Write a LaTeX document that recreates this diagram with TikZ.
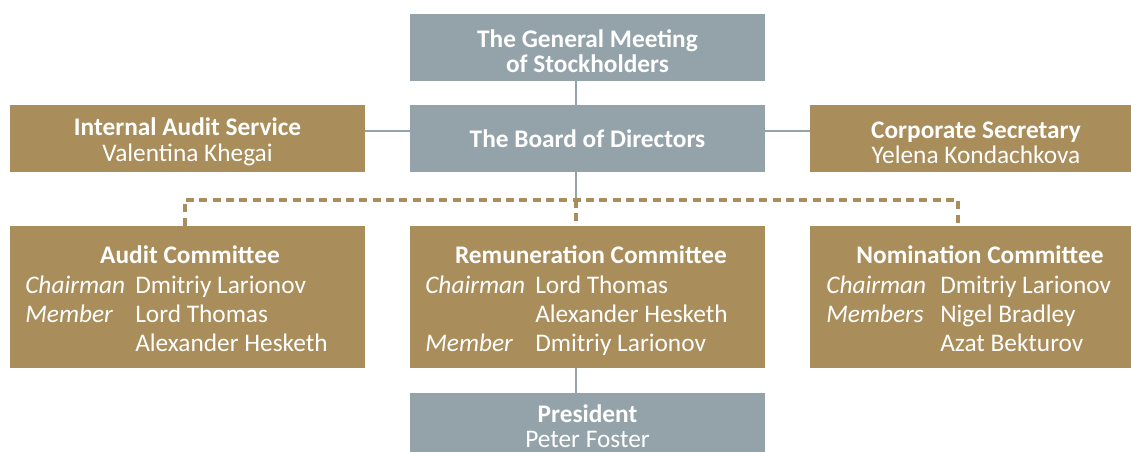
\documentclass[tikz,border=0pt]{standalone}
\usepackage{fontspec}
\setmainfont{Carlito}
\definecolor{boardgrey}{RGB}{148,162,169}
\definecolor{committeegold}{RGB}{169,141,90}
\newcommand\boxstrut{\rule{0pt}{18.5pt}}

\begin{document}
\begin{tikzpicture}[x=0.75pt,y=-0.75pt,
        box/.style={inner sep=0pt,text=white,align=center,minimum width=266.25pt,minimum height=50.25pt,
            font=\fontsize{19}{19}\selectfont},
        greybox/.style={box,fill=boardgrey},
        goldbox/.style={box,fill=committeegold},
        tallbox/.style={goldbox,minimum height=106.5pt},
        title/.style={anchor=base,inner sep=0pt,text=white,font=\bfseries\fontsize{19}{22}\selectfont},
        roster/.style={anchor=base west,inner sep=0pt,text=white,font=\fontsize{19}{22}\selectfont},
        link/.style={draw=boardgrey,line width=2pt},
        dashlink/.style={draw=committeegold,line width=2.4pt,dash pattern=on 6pt off 4pt}]
        \useasboundingbox (0,0) rectangle (1131,452);
        \clip (0,0) rectangle (1131,452);

        \node[greybox] (gm) at (587.5,47.5) {\boxstrut\textbf{The General Meeting}\\\textbf{of Stockholders}};
        \node[greybox] (board) at (587.5,138.5) {\textbf{The Board of Directors}};
        \node[goldbox] (ias) at (187.5,138.5) {\boxstrut\textbf{Internal Audit Service}\\Valentina Khegai};
        \node[goldbox,minimum width=249pt] (secretary) at (976,138.5) {\boxstrut\textbf{Corporate Secretary}\\Yelena Kondachkova};

        \node[tallbox] (audit) at (187.5,297) {};
        \node[tallbox] (remun) at (587.5,297) {};
        \node[tallbox,minimum width=249pt] (nomin) at (976,297) {};
        \node[greybox] (president) at (587.5,426.5) {\textbf{President}\\Peter Foster};

        \node[title] (audit-title) at (190,263) {Audit Committee};
        \node[roster] (audit-roster) at (25,293) {\begin{tabular}[t]{@{}p{82.5pt}@{}l@{}}
            \textit{Chairman} & Dmitriy Larionov\\
            \textit{Member} & Lord Thomas\\
            & Alexander Hesketh
          \end{tabular}};
        \node[title] (remun-title) at (591,263) {Remuneration Committee};
        \node[roster] (remun-roster) at (425,293) {\begin{tabular}[t]{@{}p{82.5pt}@{}l@{}}
            \textit{Chairman} & Lord Thomas\\
            & Alexander Hesketh\\
            \textit{Member} & Dmitriy Larionov
          \end{tabular}};
        \node[title] (nomin-title) at (980,263) {Nomination Committee};
        \node[roster] (nomin-roster) at (826,293) {\begin{tabular}[t]{@{}p{85.5pt}@{}l@{}}
            \textit{Chairman} & Dmitriy Larionov\\
            \textit{Members} & Nigel Bradley\\
            & Azat Bekturov
          \end{tabular}};

        \coordinate (spine) at (576,0);
        \coordinate (busL) at (185,200);
        \coordinate (busC) at (576,200);
        \coordinate (busR) at (958,200);

        \draw[link] (gm.south -| spine) -- (board.north -| spine);
        \draw[link] ([yshift=5.6pt]ias.east) -- ([yshift=5.6pt]board.west);
        \draw[link] ([yshift=5.6pt]board.east) -- ([yshift=5.6pt]secretary.west);
        \draw[link] (board.south -| spine) -- (busC);
        \draw[dashlink] (audit.north -| busL) -- (busL) -- (busR) -- (nomin.north -| busR);
        \draw[dashlink] (busC) -- (remun.north -| busC);
        \draw[link] (remun.south -| spine) -- (president.north -| spine);
\end{tikzpicture}
\end{document}
